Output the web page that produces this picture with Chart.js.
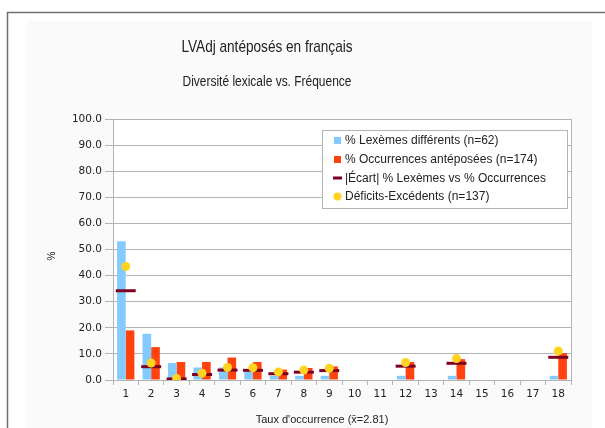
<!DOCTYPE html>
<html>
<head>
<meta charset="utf-8">
<title>LVAdj antéposés en français</title>
<script src="https://cdn.jsdelivr.net/npm/chart.js@4.4.1/dist/chart.umd.min.js"></script>
<style>
  html, body { margin: 0; padding: 0; background: #ffffff; }
  #wrap { position: relative; width: 605px; height: 428px; }
</style>
</head>
<body>
<div id="wrap"><canvas id="chart" width="605" height="428"></canvas></div>
<script>

// categories = occurrence rate (number of occurrences per lexeme)
var categories = ['1','2','3','4','5','6','7','8','9','10','11','12','13','14','15','16','17','18'];

// % Lexèmes différents (n=62)
var lexemes = [53.2, 17.7, 6.5, 4.8, 4.8, 3.2, 1.6, 1.6, 1.6, null, null, 1.6, null, 1.6, null, null, null, 1.6];

// % Occurrences antéposées (n=174)
var occurrences = [19.0, 12.6, 6.9, 6.9, 8.6, 6.9, 4.0, 4.6, 5.2, null, null, 6.9, null, 8.0, null, null, null, 10.3];

// |Écart| % Lexèmes vs % Occurrences
var ecart = [34.2, 5.1, 0.4, 2.1, 3.8, 3.7, 2.4, 3.0, 3.6, null, null, 5.3, null, 6.4, null, null, null, 8.7];

// Déficits-Excédents (n=137)
var deficits = [43.5, 6.5, 0.6, 2.6, 4.8, 4.7, 3.1, 3.8, 4.5, null, null, 6.7, null, 8.2, null, null, null, 11.1];

var yTicks = [0, 10, 20, 30, 40, 50, 60, 70, 80, 90, 100];

var seriesLabels = [
	'% Lexèmes différents (n=62)',
	'% Occurrences antéposées (n=174)',
	'|Écart| % Lexèmes vs % Occurrences',
	'Déficits-Excédents (n=137)'
];

var colors = {
	blue: '#83caff',
	red: '#ff420e',
	dark: '#7e0021',
	yellow: '#ffd320',
	grid: '#b3b3b3',
	text: '#222222'
};

var plotLeft = 113, plotRight = 571, plotTop = 119, plotBottom = 380;

// narrow-looking text: squeeze horizontally
function narrowText(ctx, text, x, y, font, sx) {
	ctx.save();
	ctx.font = font;
	ctx.translate(x, y);
	ctx.scale(sx, 1);
	ctx.fillText(text, 0, 0);
	ctx.restore();
}

// background, frame, titles, axis titles and legend
var decorPlugin = {
	id: 'decor',
	beforeDraw: function(chart) {
		var ctx = chart.ctx;
		ctx.save();
		ctx.fillStyle = '#ffffff';
		ctx.fillRect(0, 0, chart.width, chart.height);
		ctx.fillStyle = '#fafafa';
		ctx.fillRect(26, 21, 566, 420);
		ctx.fillStyle = '#ffffff';
		var a = chart.chartArea;
		ctx.fillRect(a.left, a.top, a.right - a.left, a.bottom - a.top);
		ctx.strokeStyle = '#6f6f6f';
		ctx.lineWidth = 1.5;
		ctx.strokeRect(7.5, 12.5, 640, 460);
		ctx.restore();
	},
	afterDraw: function(chart) {
		var ctx = chart.ctx;
		var a = chart.chartArea;
		ctx.save();

		// right border of the plot
		ctx.strokeStyle = colors.grid;
		ctx.lineWidth = 1;
		ctx.beginPath();
		ctx.moveTo(Math.round(a.right) + 0.5, a.top);
		ctx.lineTo(Math.round(a.right) + 0.5, a.bottom + 5);
		ctx.stroke();

		// titles
		ctx.fillStyle = colors.text;
		ctx.textAlign = 'center';
		ctx.textBaseline = 'middle';
		narrowText(ctx, 'LVAdj antéposés en français', 267, 47, '17px "Liberation Sans", sans-serif', 0.8);
		narrowText(ctx, 'Diversité lexicale vs. Fréquence', 267, 82, '14px "Liberation Sans", sans-serif', 0.855);

		// axis titles
		ctx.font = '11px "Liberation Sans", sans-serif';
		ctx.fillText('Taux d\'occurrence (x\u0304=2.81)', 322, 420);
		ctx.save();
		ctx.translate(52, 256);
		ctx.rotate(-Math.PI / 2);
		ctx.font = '10px "Liberation Sans", sans-serif';
		ctx.fillText('%', 0, 0);
		ctx.restore();

		// legend box
		var bx = 322, by = 130, bw = 245, bh = 78;
		ctx.fillStyle = '#ffffff';
		ctx.fillRect(bx, by, bw, bh);
		ctx.strokeStyle = '#b3b3b3';
		ctx.strokeRect(bx + 0.5, by + 0.5, bw, bh);

		var rows = [140.5, 159.5, 178, 196.5];
		ctx.textAlign = 'left';
		ctx.font = '12px "Liberation Sans", sans-serif';
		for (var i = 0; i < seriesLabels.length; i++) {
			var y = rows[i];
			if (i === 0 || i === 1) {
				ctx.fillStyle = i === 0 ? colors.blue : colors.red;
				ctx.fillRect(334, y - 3.5, 7, 7);
			} else if (i === 2) {
				ctx.fillStyle = colors.dark;
				ctx.fillRect(333, y - 1.5, 9, 3);
			} else {
				ctx.fillStyle = colors.yellow;
				ctx.beginPath();
				ctx.arc(337.5, y, 4, 0, Math.PI * 2);
				ctx.fill();
			}
			ctx.fillStyle = colors.text;
			ctx.fillText(seriesLabels[i], 345, y + 0.5);
		}
		ctx.restore();
	}
};

var ctx = document.getElementById('chart').getContext('2d');

var chart = new Chart(ctx, {
	type: 'bar',
	data: {
		labels: categories,
		datasets: [{
			type: 'line',
			label: seriesLabels[3],
			data: deficits,
			showLine: false,
			pointStyle: 'circle',
			pointRadius: 4.5,
			pointBackgroundColor: colors.yellow,
			pointBorderColor: colors.yellow,
			pointBorderWidth: 0,
			order: 0
		}, {
			type: 'line',
			label: seriesLabels[2],
			data: ecart,
			showLine: false,
			pointStyle: 'line',
			pointRadius: 10,
			pointBorderColor: colors.dark,
			pointBorderWidth: 3,
			order: 1
		}, {
			label: seriesLabels[0],
			data: lexemes,
			backgroundColor: colors.blue,
			borderWidth: 0,
			categoryPercentage: 0.68,
			barPercentage: 1.0,
			order: 2
		}, {
			label: seriesLabels[1],
			data: occurrences,
			backgroundColor: colors.red,
			borderWidth: 0,
			categoryPercentage: 0.68,
			barPercentage: 1.0,
			order: 3
		}]
	},
	options: {
		responsive: false,
		animation: false,
		events: [],
		layout: {
			padding: { left: 0, right: 605 - plotRight, top: plotTop, bottom: 0 }
		},
		plugins: {
			legend: { display: false },
			title: { display: false },
			tooltip: { enabled: false }
		},
		scales: {
			x: {
				offset: true,
				grid: {
					offset: true,
					drawOnChartArea: false,
					drawTicks: true,
					tickLength: 5,
					color: colors.grid
				},
				border: { color: colors.grid },
				ticks: {
					color: colors.text,
					padding: 3,
					maxRotation: 0,
					autoSkip: false,
					font: { family: '"DejaVu Sans", sans-serif', size: 10.5 }
				},
				afterFit: function(scale) { scale.height = 428 - plotBottom; }
			},
			y: {
				min: 0,
				max: 100,
				afterBuildTicks: function(scale) {
					scale.ticks = yTicks.map(function(v) { return { value: v }; });
				},
				grid: {
					color: colors.grid,
					tickLength: 8
				},
				border: { color: colors.grid },
				ticks: {
					color: colors.text,
					padding: 3,
					font: { family: '"DejaVu Sans", sans-serif', size: 10.5 },
					callback: function(v) { return Number(v).toFixed(1); }
				},
				afterFit: function(scale) { scale.width = plotLeft; }
			}
		}
	},
	plugins: [decorPlugin]
});
</script>
</body>
</html>
